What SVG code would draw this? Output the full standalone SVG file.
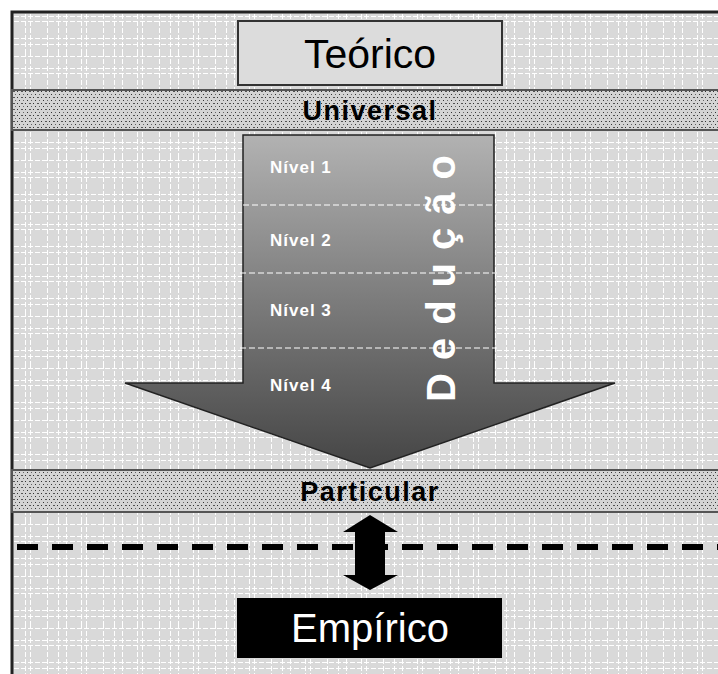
<svg xmlns="http://www.w3.org/2000/svg" width="718" height="674" viewBox="0 0 718 674">
<defs>
<pattern id="plaid" width="56" height="52" patternUnits="userSpaceOnUse">
<rect width="56" height="52" fill="#d9d9d9"/>
<g stroke="#ffffff" stroke-width="1" stroke-dasharray="5 2" fill="none">
<path d="M2.5 0V52M10.5 0V52M25.5 0V52M30.5 0V52M47.5 0V52"/>
<path d="M0 4.5H56M0 16.5H56M0 21.5H56M0 38.5H56M0 44.5H56"/>
</g>
</pattern>
<pattern id="dots" width="8" height="6" patternUnits="userSpaceOnUse">
<rect width="8" height="6" fill="#d4d4d4"/>
<rect x="1" y="1" width="1" height="1" fill="#333"/>
<rect x="5" y="1" width="2" height="1" fill="#555"/>
<rect x="3" y="4" width="1" height="1" fill="#333"/>
<rect x="7" y="4" width="1" height="1" fill="#666"/>
</pattern>
<linearGradient id="arrowGrad" x1="0" y1="0" x2="0" y2="1">
<stop offset="0" stop-color="#b2b2b2"/>
<stop offset="1" stop-color="#454545"/>
</linearGradient>
<style>
.band{fill:url(#dots);stroke:#555;stroke-width:2}
.lbl{font-family:"Liberation Sans",Arial,sans-serif;fill:#000;text-anchor:middle}
.nivel{font-family:"Liberation Sans",Arial,sans-serif;font-size:17px;font-weight:bold;letter-spacing:1px;fill:#fff}
.sep{stroke:#fff;stroke-width:1.2;stroke-dasharray:6 3;fill:none}
</style>
</defs>
<rect x="0" y="0" width="718" height="674" fill="#fff"/>
<rect x="12" y="12" width="710" height="670" fill="url(#plaid)" stroke="#222" stroke-width="3"/>

<g id="teorico">
<rect x="238" y="21" width="264" height="64" fill="#dcdcdc" stroke="#333" stroke-width="2"/>
<text class="lbl" x="370" y="68" font-size="41">Teórico</text>
</g>

<g id="universal">
<rect class="band" x="12" y="90" width="710" height="40"/>
<text class="lbl" x="370" y="120" font-size="27" font-weight="bold" letter-spacing="1.5">Universal</text>
</g>

<g id="deducao">
<path d="M243 135H494V383H615L370 468L125 383H243Z" fill="url(#arrowGrad)" stroke="#222" stroke-width="1.5"/>
<path class="sep" d="M243 205H497M240 273H497M240 348H497"/>
<text class="nivel" x="270" y="173">Nível 1</text>
<text class="nivel" x="270" y="246">Nível 2</text>
<text class="nivel" x="270" y="316">Nível 3</text>
<text class="nivel" x="270" y="391">Nível 4</text>
<text x="0" y="0" transform="translate(455 402) rotate(-90)" font-family="Liberation Sans,Arial,sans-serif" font-size="40" font-weight="bold" fill="#fff" letter-spacing="13">Dedução</text>
</g>

<g id="particular">
<rect class="band" x="12" y="470" width="710" height="42"/>
<text class="lbl" x="370" y="501" font-size="27" font-weight="bold" letter-spacing="1.5">Particular</text>
</g>

<g id="connectors">
<path d="M17 547H718" stroke="#000" stroke-width="6" stroke-dasharray="21 14"/>
<path d="M370 515L398 532H385V575H398L370 590L343 575H355V532H343Z" fill="#000"/>
</g>

<g id="empirico">
<rect x="237" y="598" width="265" height="60" fill="#000"/>
<text class="lbl" x="370" y="642" font-size="40" style="fill:#fff">Empírico</text>
</g>
</svg>
